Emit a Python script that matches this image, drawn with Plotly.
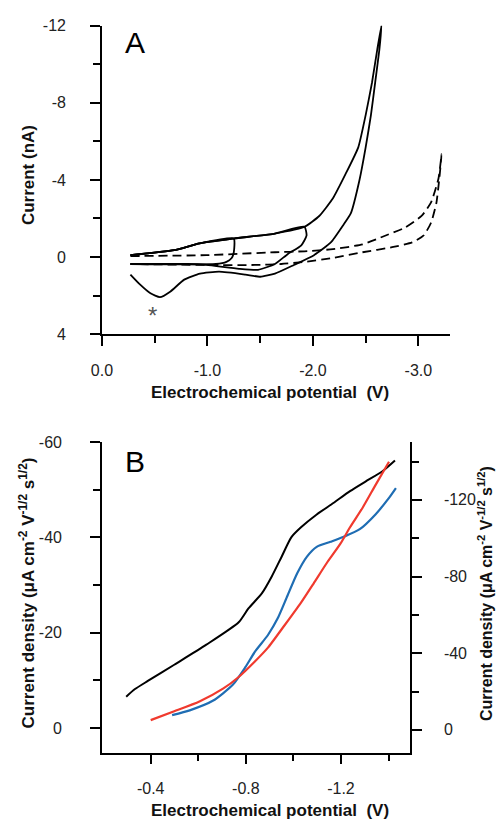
import plotly.graph_objects as go

# ---------------- Panel A: cyclic voltammograms (V, nA) ----------------
loop1_v = [-0.27, -0.685, -0.926, -1.25, -1.25, -1.23, -1.18, -1.08, -0.27]
loop1_i = [-0.10, -0.36, -0.71, -0.96, -0.25, 0.05, 0.25, 0.36, 0.36]

loop2_v = [-0.27, -0.685, -0.926, -1.25, -1.64, -1.92, -1.94, -1.89, -1.76, -1.64, -1.48, -1.30, -0.99, -0.81, -0.27]
loop2_i = [-0.10, -0.36, -0.71, -0.96, -1.22, -1.57, -1.12, -0.61, -0.15, 0.36, 0.66, 0.61, 0.41, 0.36, 0.36]

loop3_v = [-0.27, -0.685, -0.926, -1.25, -1.64, -1.92, -2.06, -2.19, -2.31, -2.43, -2.50, -2.56, -2.61, -2.65,
           -2.63, -2.59, -2.55, -2.50, -2.44, -2.36, -2.29, -2.17, -2.01, -1.82, -1.64, -1.50, -1.36, -1.11,
           -0.93, -0.78, -0.65, -0.55, -0.46, -0.36, -0.27]
loop3_i = [-0.10, -0.36, -0.71, -0.96, -1.22, -1.57, -2.13, -3.05, -4.31, -5.69, -7.36, -9.04, -10.76, -12.03,
           -10.76, -9.04, -7.36, -5.69, -3.96, -2.28, -1.68, -0.76, -0.10, 0.41, 0.86, 1.02, 0.91, 0.76,
           0.86, 1.17, 1.78, 2.08, 1.88, 1.42, 0.91]

dash_v = [-0.27, -0.99, -1.64, -1.92, -2.19, -2.47, -2.69, -2.87, -3.03, -3.12, -3.19, -3.22,
          -3.20, -3.17, -3.12, -3.05, -2.94, -2.75, -2.47, -2.19, -1.92, -1.70, -1.45, -0.99, -0.27]
dash_i = [-0.05, -0.10, -0.25, -0.30, -0.41, -0.66, -1.12, -1.52, -2.13, -2.84, -4.06, -5.33,
          -4.16, -2.79, -1.78, -1.12, -0.76, -0.51, -0.25, 0.05, 0.25, 0.36, 0.41, 0.41, 0.36]

a_xticks = [0.0, -1.0, -2.0, -3.0]
a_xticklabels = ["0.0", "-1.0", "-2.0", "-3.0"]
a_xminor = [-0.5, -1.5, -2.5]
a_yticks = [-12, -8, -4, 0, 4]
a_yticklabels = ["-12", "-8", "-4", "0", "4"]
a_yminor = [-10, -6, -2, 2]

# ---------------- Panel B: current density (V) ----------------
black_v = [-0.297, -0.334, -0.388, -0.499, -0.634, -0.770, -0.811, -0.868, -0.909, -0.950, -0.991,
           -1.032, -1.098, -1.168, -1.238, -1.303, -1.373, -1.427]
black_j = [-6.6, -8.2, -9.9, -13.3, -17.5, -22.2, -25.1, -28.3, -31.8, -35.9, -40.0,
           -42.1, -44.8, -47.2, -49.7, -51.7, -53.8, -56.1]

blue_v = [-0.490, -0.564, -0.663, -0.745, -0.798, -0.839, -0.893, -0.934, -0.975, -1.016, -1.057,
          -1.098, -1.156, -1.209, -1.279, -1.345, -1.402, -1.431]
blue_j = [-7.7, -10.2, -15.3, -23.5, -32.7, -40.9, -49.5, -58.2, -70.0, -81.7, -90.4,
          -95.5, -98.1, -100.6, -104.7, -112.4, -121.0, -126.1]

red_v = [-0.400, -0.499, -0.605, -0.704, -0.770, -0.839, -0.893, -0.963, -1.032, -1.086, -1.139,
         -1.197, -1.238, -1.291, -1.345, -1.402]
red_j = [-5.1, -9.7, -14.8, -21.5, -27.6, -35.8, -42.9, -54.6, -66.4, -76.6, -86.8,
         -97.0, -105.7, -115.9, -127.7, -139.9]

b_xticks = [-0.4, -0.8, -1.2]
b_xticklabels = ["-0.4", "-0.8", "-1.2"]
b_xminor = [-0.6, -1.0, -1.4]
b_yticks = [-60, -40, -20, 0]
b_yticklabels = ["-60", "-40", "-20", "0"]
b_yminor = [-50, -30, -10]
b_y2ticks = [-120, -80, -40, 0]
b_y2ticklabels = ["-120", "-80", "-40", "0"]
b_y2minor = [-140, -100, -60, -20]

W, H = 496, 834
TICKFONT = dict(family="Liberation Sans, Arial, sans-serif", size=16, color="#222")
TITLEFONT = dict(family="Liberation Sans, Arial, sans-serif", size=17, color="#111")

fig = go.Figure()

for vv, ii in [(loop1_v, loop1_i), (loop2_v, loop2_i), (loop3_v, loop3_i)]:
    fig.add_trace(go.Scatter(x=vv, y=ii, mode="lines", xaxis="x", yaxis="y",
                             line=dict(color="black", width=1.8, shape="spline", smoothing=0.5),
                             hoverinfo="skip"))
fig.add_trace(go.Scatter(x=dash_v, y=dash_i, mode="lines", xaxis="x", yaxis="y",
                         line=dict(color="black", width=1.8, dash="9px,5px", shape="spline", smoothing=0.5),
                         hoverinfo="skip"))

fig.add_trace(go.Scatter(x=black_v, y=black_j, mode="lines", xaxis="x2", yaxis="y2",
                         line=dict(color="black", width=2, shape="spline", smoothing=0.6)))
fig.add_trace(go.Scatter(x=blue_v, y=blue_j, mode="lines", xaxis="x2", yaxis="y3",
                         line=dict(color="#1f6db3", width=2.2, shape="spline", smoothing=0.6)))
fig.add_trace(go.Scatter(x=red_v, y=red_j, mode="lines", xaxis="x2", yaxis="y3",
                         line=dict(color="#f03a2e", width=2.2, shape="spline", smoothing=0.6)))


def px_x(p):
    return p / W


def px_y(p):
    return 1 - p / H


common = dict(showline=True, linecolor="black", linewidth=1.5, ticks="outside", ticklen=10,
              tickwidth=1.5, tickcolor="black", showgrid=False, zeroline=False, tickfont=TICKFONT)


def minor(vals):
    return dict(tickvals=vals, ticks="outside", ticklen=7, tickwidth=1.5, tickcolor="black", showgrid=False)


fig.update_layout(
    width=W, height=H, margin=dict(l=0, r=0, t=0, b=0),
    paper_bgcolor="white", plot_bgcolor="white", showlegend=False,
    xaxis=dict(domain=[px_x(93), px_x(449)], anchor="y", range=[0, -3.3],
               tickvals=a_xticks, ticktext=a_xticklabels, minor=minor(a_xminor),
               ticklabelstandoff=11, **common),
    yaxis=dict(domain=[px_y(333), px_y(18)], anchor="x", range=[4, -12],
               tickvals=a_yticks, ticktext=a_yticklabels, minor=minor(a_yminor),
               ticklabelstandoff=21, **common),
    xaxis2=dict(domain=[px_x(93), px_x(408)], anchor="y2", range=[-0.195, -1.49],
                tickvals=b_xticks, ticktext=b_xticklabels, minor=minor(b_xminor),
                ticklabelstandoff=11, **common),
    yaxis2=dict(domain=[px_y(760), px_y(443)], anchor="x2", range=[5.1, -60],
                tickvals=b_yticks, ticktext=b_yticklabels, minor=minor(b_yminor),
                ticklabelstandoff=25, **common),
    yaxis3=dict(overlaying="y2", side="right", anchor="x2", range=[11.8, -150.2],
                tickvals=b_y2ticks, ticktext=b_y2ticklabels, minor=minor(b_y2minor),
                ticklabelstandoff=19, **common),
)

ann = [
    dict(text="A", x=px_x(127), y=px_y(35), font=dict(family="Liberation Sans, Arial", size=30, color="black")),
    dict(text="B", x=px_x(127), y=px_y(463), font=dict(family="Liberation Sans, Arial", size=30, color="black")),
    dict(text="<b>Current (nA)</b>", x=px_x(18), y=px_y(171), textangle=-90, font=TITLEFONT),
    dict(text="<b>Electrochemical potential  (V)</b>", x=px_x(265), y=px_y(392), font=TITLEFONT),
    dict(text="<b>Current density (μA cm<sup>-2</sup> V<sup>-1/2</sup> s<sup>1/2</sup>)</b>",
         x=px_x(16), y=px_y(597), textangle=-90, font=TITLEFONT),
    dict(text="<b>Current density (μA cm<sup>-2</sup> V<sup>-1/2</sup> s<sup>1/2</sup>)</b>",
         x=px_x(485), y=px_y(598), textangle=-90, font=dict(TITLEFONT, size=16)),
    dict(text="<b>Electrochemical potential  (V)</b>", x=px_x(265), y=px_y(819), font=TITLEFONT),
    dict(text="*", x=px_x(145), y=px_y(314), font=dict(family="Liberation Sans, Arial", size=24, color="#555")),
]
for a in ann:
    a.update(xref="paper", yref="paper", showarrow=False, xanchor="center", yanchor="middle")
fig.update_layout(annotations=ann)

fig.write_html("out.html", config={"displayModeBar": False},
               post_script="document.body.style.margin='0';document.body.style.overflow='hidden';")
